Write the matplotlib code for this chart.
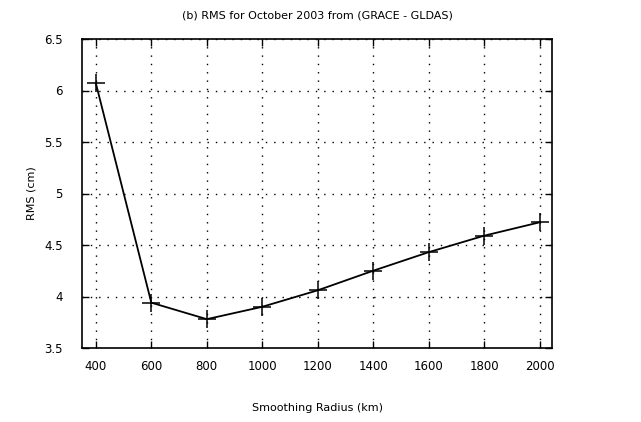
import matplotlib
matplotlib.use('Agg')
import matplotlib.pyplot as plt

# Smoothing radius (km) and RMS of (GRACE - GLDAS) for October 2003
RADIUS = [400, 600, 800, 1000, 1200, 1400, 1600, 1800, 2000]
RMS = [6.07, 3.94, 3.78, 3.90, 4.06, 4.25, 4.43, 4.59, 4.72]
Y_TICKS = [3.5, 4, 4.5, 5, 5.5, 6, 6.5]
Y_LABELS = ['3.5', '4', '4.5', '5', '5.5', '6', '6.5']


def main():
    plt.rcParams['font.family'] = ['DejaVu Sans']
    fig = plt.figure(figsize=(6.41, 4.22), dpi=100)
    ax = fig.add_axes([82 / 641, 1 - 348 / 422, (552 - 82) / 641, (348 - 39) / 422])

    ax.plot(RADIUS, RMS, color='black', linewidth=1.3, marker='+',
            markersize=13, markeredgewidth=1.1)

    ax.set_xlim(350, 2045)
    ax.set_ylim(3.5, 6.5)
    ax.set_xticks(RADIUS)
    ax.set_xticklabels([str(r) for r in RADIUS])
    ax.set_yticks(Y_TICKS)
    ax.set_yticklabels(Y_LABELS)

    ax.grid(True, color='black', linestyle=(0, (1, 5)), linewidth=1.0)
    ax.tick_params(direction='in', length=5, width=1, top=True, right=True,
                   labelsize=8.5)
    ax.tick_params(axis='x', pad=9)
    ax.tick_params(axis='y', pad=14)
    for side in ax.spines.values():
        side.set_linewidth(1.2)

    ax.set_xlabel('Smoothing Radius (km)', fontsize=8, labelpad=21)
    ax.set_ylabel('RMS (cm)', fontsize=8, labelpad=5)
    ax.set_title('(b) RMS for October 2003 from (GRACE - GLDAS)', fontsize=8, pad=15)

    fig.savefig('out.png', dpi=100, facecolor='white')


if __name__ == "__main__":
    main()
